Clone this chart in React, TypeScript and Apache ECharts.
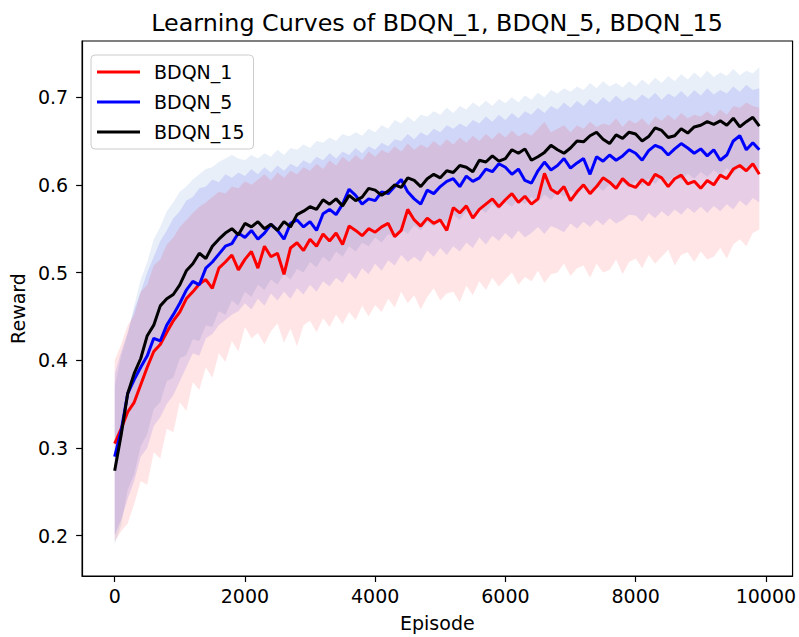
import React, { useEffect, useRef } from "react";
import * as echarts from "echarts";

const STEP = 100;
const X_TICKS = [0, 2000, 4000, 6000, 8000, 10000];
const Y_TICKS = [0.2, 0.3, 0.4, 0.5, 0.6, 0.7];
const NAMES = ["BDQN_1", "BDQN_5", "BDQN_15"];

const RED = [
  0.305, 0.322, 0.341, 0.352, 0.372, 0.392, 0.41, 0.418, 0.432, 0.445,
  0.455, 0.47, 0.478, 0.487, 0.492, 0.482, 0.505, 0.512, 0.52, 0.503,
  0.515, 0.524, 0.505, 0.53, 0.518, 0.522, 0.498, 0.528, 0.534, 0.525,
  0.538, 0.53, 0.544, 0.536, 0.545, 0.532, 0.553, 0.548, 0.542, 0.55,
  0.546, 0.552, 0.556, 0.541, 0.548, 0.572, 0.56, 0.553, 0.562, 0.556,
  0.56, 0.548, 0.574, 0.568, 0.576, 0.562, 0.572, 0.578, 0.584, 0.575,
  0.583, 0.59, 0.58, 0.587, 0.578, 0.584, 0.613, 0.595, 0.59, 0.598,
  0.582, 0.592, 0.6, 0.59, 0.598, 0.608, 0.603, 0.596, 0.607, 0.6,
  0.597, 0.606, 0.6, 0.612, 0.608, 0.598, 0.607, 0.611, 0.601, 0.604,
  0.596, 0.605, 0.6, 0.611, 0.607, 0.618, 0.622, 0.616, 0.624, 0.612,
];
const BLUE = [
  0.29, 0.32, 0.362, 0.378, 0.392, 0.405, 0.425, 0.422, 0.44, 0.452,
  0.465, 0.48, 0.49, 0.486, 0.505, 0.512, 0.521, 0.53, 0.533, 0.545,
  0.54, 0.548, 0.538, 0.545, 0.555, 0.548, 0.538, 0.556, 0.56, 0.552,
  0.558, 0.548, 0.567, 0.572, 0.566, 0.578, 0.595, 0.588, 0.578, 0.584,
  0.582, 0.592, 0.59, 0.598, 0.606, 0.592, 0.584, 0.578, 0.594, 0.59,
  0.598, 0.604, 0.607, 0.598, 0.61, 0.604, 0.608, 0.618, 0.615, 0.624,
  0.62, 0.612, 0.618, 0.605, 0.602, 0.616, 0.626, 0.617, 0.622, 0.63,
  0.619, 0.625, 0.63, 0.612, 0.632, 0.627, 0.634, 0.628, 0.633, 0.64,
  0.636, 0.628, 0.639, 0.645, 0.642, 0.634, 0.641, 0.647, 0.642, 0.636,
  0.641, 0.633, 0.64, 0.628, 0.634, 0.65, 0.656, 0.64, 0.648, 0.64,
];
const BLACK = [
  0.274, 0.315, 0.362, 0.385, 0.402, 0.428, 0.44, 0.462, 0.47, 0.475,
  0.486, 0.502, 0.51, 0.522, 0.516, 0.53, 0.538, 0.545, 0.55, 0.543,
  0.556, 0.552, 0.558, 0.55, 0.555, 0.548, 0.558, 0.552, 0.566, 0.57,
  0.575, 0.572, 0.583, 0.578, 0.584, 0.576, 0.588, 0.582, 0.586, 0.596,
  0.594, 0.588, 0.593, 0.6, 0.597, 0.608, 0.605, 0.598, 0.607, 0.612,
  0.608, 0.616, 0.614, 0.622, 0.62, 0.615, 0.628, 0.626, 0.633, 0.627,
  0.63, 0.64, 0.636, 0.641, 0.628, 0.632, 0.637, 0.645, 0.64, 0.636,
  0.642, 0.65, 0.649, 0.656, 0.66, 0.652, 0.647, 0.657, 0.653, 0.66,
  0.658, 0.65, 0.655, 0.665, 0.662, 0.654, 0.656, 0.664, 0.659, 0.666,
  0.668, 0.672, 0.669, 0.673, 0.668, 0.676, 0.666, 0.672, 0.677, 0.667,
];

const RED_LO = [
  0.193, 0.205, 0.214, 0.236, 0.262, 0.258, 0.295, 0.288, 0.322, 0.318,
  0.352, 0.342, 0.375, 0.366, 0.392, 0.38, 0.408, 0.398, 0.422, 0.41,
  0.438, 0.425, 0.431, 0.418, 0.433, 0.442, 0.42, 0.436, 0.416, 0.44,
  0.445, 0.432, 0.448, 0.438, 0.452, 0.441, 0.455, 0.446, 0.462, 0.45,
  0.463, 0.455, 0.47, 0.46, 0.478, 0.465, 0.474, 0.458, 0.472, 0.482,
  0.468, 0.476, 0.478, 0.466, 0.485, 0.474, 0.49, 0.48, 0.494, 0.484,
  0.492, 0.5, 0.486, 0.495, 0.49, 0.502, 0.488, 0.498, 0.5, 0.51,
  0.496, 0.505, 0.508, 0.494, 0.51, 0.5, 0.503, 0.515, 0.498, 0.512,
  0.516, 0.505, 0.52, 0.51, 0.518, 0.526, 0.508, 0.52, 0.523, 0.512,
  0.524, 0.515, 0.518, 0.528, 0.516, 0.532, 0.538, 0.53, 0.545, 0.549,
];
const RED_HI = [
  0.4, 0.418, 0.44, 0.452, 0.478, 0.486, 0.508, 0.515, 0.532, 0.54,
  0.552, 0.56, 0.568, 0.575, 0.58, 0.586, 0.592, 0.59, 0.598, 0.596,
  0.604, 0.6, 0.606, 0.612, 0.605, 0.614, 0.608, 0.616, 0.612, 0.62,
  0.616, 0.624, 0.618, 0.628, 0.622, 0.632, 0.626, 0.634, 0.628, 0.638,
  0.632, 0.64, 0.636, 0.644, 0.638, 0.647, 0.64, 0.646, 0.642, 0.65,
  0.644, 0.652, 0.646, 0.654, 0.648, 0.656, 0.65, 0.658, 0.652, 0.66,
  0.654, 0.662, 0.655, 0.66, 0.656, 0.664, 0.672, 0.66, 0.664, 0.668,
  0.66, 0.668, 0.664, 0.672, 0.666, 0.67, 0.668, 0.676, 0.666, 0.674,
  0.67, 0.676, 0.668, 0.678, 0.673, 0.68, 0.674, 0.682, 0.676, 0.68,
  0.678, 0.684, 0.678, 0.686, 0.68, 0.69, 0.688, 0.694, 0.69, 0.688,
];
const BLUE_LO = [
  0.2, 0.218, 0.242, 0.262, 0.29, 0.3, 0.325, 0.335, 0.35, 0.36,
  0.376, 0.392, 0.408, 0.405, 0.425, 0.43, 0.44, 0.446, 0.452, 0.456,
  0.465, 0.458, 0.47, 0.462, 0.476, 0.468, 0.478, 0.47, 0.482, 0.475,
  0.486, 0.478, 0.49, 0.484, 0.494, 0.488, 0.5, 0.492, 0.505, 0.498,
  0.51, 0.502, 0.514, 0.508, 0.52, 0.512, 0.518, 0.512, 0.525, 0.518,
  0.528, 0.52, 0.53, 0.524, 0.534, 0.528, 0.54, 0.532, 0.542, 0.536,
  0.545, 0.538, 0.548, 0.54, 0.545, 0.552, 0.544, 0.553, 0.55, 0.546,
  0.556, 0.55, 0.558, 0.552, 0.56, 0.554, 0.562, 0.556, 0.56, 0.566,
  0.565, 0.558, 0.568, 0.562, 0.57, 0.564, 0.572, 0.566, 0.574, 0.568,
  0.575, 0.568, 0.576, 0.57, 0.578, 0.572, 0.582, 0.576, 0.585, 0.58,
];
const BLUE_HI = [
  0.385, 0.41, 0.432, 0.458, 0.478, 0.5, 0.518, 0.536, 0.548, 0.562,
  0.57, 0.582, 0.586, 0.596, 0.598, 0.606, 0.603, 0.612, 0.608, 0.614,
  0.61, 0.618, 0.612, 0.62, 0.614, 0.622, 0.616, 0.624, 0.62, 0.628,
  0.624, 0.632, 0.628, 0.636, 0.63, 0.638, 0.634, 0.642, 0.636, 0.644,
  0.64, 0.648, 0.644, 0.652, 0.65, 0.658, 0.652, 0.66, 0.656, 0.664,
  0.66, 0.668, 0.664, 0.67, 0.666, 0.674, 0.67, 0.678, 0.672, 0.68,
  0.674, 0.682, 0.676, 0.684, 0.68, 0.688, 0.682, 0.69, 0.686, 0.694,
  0.688, 0.696, 0.69, 0.698, 0.692, 0.7, 0.694, 0.702, 0.695, 0.7,
  0.696, 0.703, 0.698, 0.705, 0.697, 0.704, 0.7, 0.707, 0.7, 0.708,
  0.702, 0.71, 0.703, 0.708, 0.704, 0.712, 0.706, 0.714, 0.708, 0.71,
];
const BLACK_LO = [
  0.19, 0.212, 0.252, 0.27, 0.302, 0.316, 0.344, 0.352, 0.376, 0.38,
  0.402, 0.406, 0.424, 0.422, 0.44, 0.438, 0.456, 0.452, 0.468, 0.462,
  0.478, 0.472, 0.486, 0.48, 0.492, 0.486, 0.498, 0.492, 0.504, 0.5,
  0.512, 0.506, 0.518, 0.512, 0.524, 0.518, 0.53, 0.524, 0.534, 0.53,
  0.54, 0.534, 0.544, 0.54, 0.55, 0.544, 0.554, 0.548, 0.558, 0.552,
  0.562, 0.556, 0.566, 0.56, 0.57, 0.564, 0.574, 0.568, 0.578, 0.572,
  0.58, 0.575, 0.584, 0.578, 0.586, 0.58, 0.589, 0.583, 0.592, 0.586,
  0.594, 0.588, 0.597, 0.591, 0.599, 0.593, 0.601, 0.595, 0.603, 0.597,
  0.605, 0.599, 0.607, 0.601, 0.609, 0.603, 0.611, 0.605, 0.613, 0.607,
  0.615, 0.609, 0.617, 0.611, 0.619, 0.613, 0.621, 0.615, 0.622, 0.618,
];
const BLACK_HI = [
  0.37, 0.405, 0.43, 0.462, 0.492, 0.512, 0.538, 0.552, 0.57, 0.58,
  0.592, 0.598, 0.606, 0.612, 0.618, 0.62, 0.626, 0.63, 0.634, 0.63,
  0.628, 0.634, 0.63, 0.636, 0.632, 0.64, 0.634, 0.642, 0.64, 0.646,
  0.642, 0.65, 0.648, 0.654, 0.65, 0.658, 0.655, 0.66, 0.656, 0.664,
  0.66, 0.668, 0.664, 0.674, 0.67, 0.678, 0.672, 0.68, 0.678, 0.684,
  0.68, 0.688, 0.682, 0.69, 0.686, 0.694, 0.689, 0.696, 0.69, 0.698,
  0.693, 0.7, 0.694, 0.702, 0.697, 0.705, 0.7, 0.708, 0.704, 0.71,
  0.706, 0.712, 0.708, 0.716, 0.71, 0.718, 0.712, 0.716, 0.711, 0.718,
  0.712, 0.72, 0.714, 0.722, 0.716, 0.724, 0.718, 0.726, 0.72, 0.728,
  0.722, 0.73, 0.723, 0.728, 0.724, 0.732, 0.725, 0.73, 0.727, 0.734,
];

const EPISODES = RED.map((_, i) => i * STEP);
const FONT = "DejaVu Sans";

function bandSeries(name: string, lo: number[], hi: number[], fill: string, z: number) {
  return {
    name,
    type: "custom",
    silent: true,
    z,
    data: EPISODES.map((e, i) => [e, hi[i], lo[i]]),
    encode: { x: 0, y: 1 },
    renderItem: (params: any, api: any) => {
      if (params.dataIndex !== 0) return null;
      const pts: number[][] = [];
      for (let i = 0; i < EPISODES.length; i++) pts.push(api.coord([EPISODES[i], hi[i]]));
      for (let i = EPISODES.length - 1; i >= 0; i--) pts.push(api.coord([EPISODES[i], lo[i]]));
      return { type: "polygon", shape: { points: pts }, style: { fill, stroke: "none" } };
    },
  };
}

function lineSeries(name: string, vals: number[], color: string, z: number) {
  return {
    name,
    type: "line",
    z,
    data: EPISODES.map((e, i) => [e, vals[i]]),
    showSymbol: false,
    symbol: "none",
    itemStyle: { color },
    lineStyle: { color, width: 3 },
  };
}

export default function App() {
  const ref = useRef<HTMLDivElement>(null);
  useEffect(() => {
    if (!ref.current) return;
    const chart = echarts.init(ref.current, null, { renderer: "svg" });
    chart.setOption({
      animation: false,
      backgroundColor: "#fff",
      textStyle: { fontFamily: FONT },
      graphic: [
        {
          type: "text",
          x: 437,
          y: 23,
          style: {
            text: "Learning Curves of BDQN_1, BDQN_5, BDQN_15",
            fontFamily: FONT,
            fontSize: 23.8,
            fill: "#000",
            textAlign: "center",
            textVerticalAlign: "middle",
          },
        },
      ],
      grid: { left: 80, right: 4, top: 41, bottom: 60, show: true, borderColor: "#000", borderWidth: 1.2, backgroundColor: "transparent" },
      legend: {
        data: NAMES,
        orient: "vertical",
        left: 91,
        top: 55,
        icon: "rect",
        itemWidth: 43,
        itemHeight: 3,
        itemGap: 8,
        padding: [6, 9, 6, 6],
        backgroundColor: "rgba(255,255,255,0.8)",
        borderColor: "#cccccc",
        borderWidth: 1,
        borderRadius: 4,
        textStyle: { fontFamily: FONT, fontSize: 19, color: "#000", lineHeight: 22, padding: [0, 0, 0, 9] },
      },
      xAxis: {
        type: "value",
        min: -500,
        max: 10410,
        name: "Episode",
        nameLocation: "middle",
        nameGap: 37,
        nameTextStyle: { fontFamily: FONT, fontSize: 19, color: "#000" },
        axisLine: { show: true, onZero: false, lineStyle: { color: "#000", width: 1.2 } },
        axisTick: { show: true, customValues: X_TICKS, length: 6, lineStyle: { color: "#000", width: 1.2 } },
        axisLabel: { customValues: X_TICKS, fontFamily: FONT, fontSize: 19, color: "#000", margin: 10, formatter: (v: number) => String(v) },
        splitLine: { show: false },
      },
      yAxis: {
        type: "value",
        min: 0.154,
        max: 0.764,
        name: "Reward",
        nameLocation: "middle",
        nameRotate: 90,
        nameGap: 51,
        nameTextStyle: { fontFamily: FONT, fontSize: 19, color: "#000" },
        axisLine: { show: true, onZero: false, lineStyle: { color: "#000", width: 1.2 } },
        axisTick: { show: true, customValues: Y_TICKS, length: 6, lineStyle: { color: "#000", width: 1.2 } },
        axisLabel: { customValues: Y_TICKS, fontFamily: FONT, fontSize: 19, color: "#000", margin: 14, formatter: (v: number) => v.toFixed(1) },
        splitLine: { show: false },
      },
      series: [
        bandSeries("band_15", BLACK_LO, BLACK_HI, "rgba(150,180,225,0.22)", 1),
        bandSeries("band_5", BLUE_LO, BLUE_HI, "rgba(0,0,255,0.1)", 1),
        bandSeries("band_1", RED_LO, RED_HI, "rgba(255,0,0,0.1)", 1),
        lineSeries(NAMES[0], RED, "#ff0000", 3),
        lineSeries(NAMES[1], BLUE, "#0000ff", 4),
        lineSeries(NAMES[2], BLACK, "#000000", 5),
      ],
    });
    return () => chart.dispose();
  }, []);
  return <div ref={ref} style={{ position: "absolute", left: 0, top: 0, width: 799, height: 637 }} />;
}
